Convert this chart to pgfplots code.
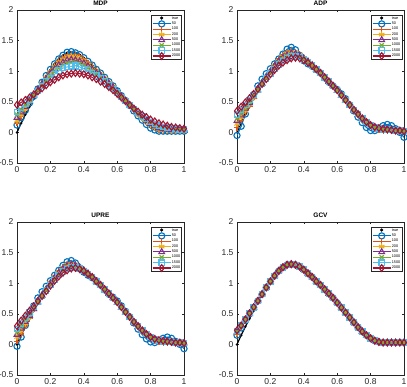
\documentclass[border=0pt]{standalone}
\usepackage{pgfplots}
\pgfplotsset{compat=1.18}
\usepackage{pgfplotstable}
\usepackage{fontspec}
\setmainfont{Liberation Sans}
\definecolor{c1}{rgb}{0,0.447,0.741}
\definecolor{c2}{rgb}{0.85,0.325,0.098}
\definecolor{c3}{rgb}{0.929,0.694,0.125}
\definecolor{c4}{rgb}{0.494,0.184,0.556}
\definecolor{c5}{rgb}{0.466,0.674,0.188}
\definecolor{c6}{rgb}{0.301,0.745,0.933}
\definecolor{c7}{rgb}{0.635,0.078,0.184}
\definecolor{axc}{rgb}{0.15,0.15,0.15}

\pgfplotstableread{
x t s50 s100 s200 s500 s1000 s1500 s2000
0 0 0.12 0.15 0.19 0.24 0.29 0.33 0.45
0.025 0.15 0.24 0.26 0.29 0.33 0.37 0.40 0.49
0.05 0.29 0.36 0.37 0.39 0.42 0.45 0.47 0.53
0.075 0.42 0.48 0.49 0.50 0.51 0.53 0.54 0.57
0.1 0.55 0.59 0.59 0.60 0.60 0.61 0.61 0.62
0.125 0.69 0.71 0.71 0.70 0.70 0.69 0.68 0.67
0.15 0.81 0.82 0.81 0.80 0.79 0.77 0.76 0.72
0.175 0.92 0.93 0.92 0.90 0.87 0.85 0.83 0.77
0.2 1.02 1.03 1.01 0.99 0.96 0.92 0.89 0.82
0.225 1.12 1.12 1.10 1.07 1.03 0.99 0.95 0.86
0.25 1.20 1.20 1.18 1.14 1.10 1.05 1.01 0.90
0.275 1.26 1.26 1.23 1.19 1.14 1.10 1.05 0.93
0.3 1.30 1.31 1.27 1.23 1.18 1.13 1.07 0.95
0.325 1.31 1.32 1.28 1.24 1.19 1.14 1.08 0.96
0.35 1.30 1.30 1.27 1.23 1.18 1.14 1.09 0.97
0.375 1.27 1.27 1.25 1.21 1.16 1.12 1.07 0.96
0.4 1.22 1.22 1.20 1.17 1.13 1.09 1.04 0.95
0.425 1.16 1.16 1.14 1.11 1.08 1.05 1.01 0.93
0.45 1.10 1.10 1.08 1.06 1.03 1.00 0.97 0.90
0.475 1.03 1.03 1.02 1.00 0.97 0.95 0.93 0.87
0.5 0.97 0.97 0.96 0.94 0.92 0.90 0.88 0.83
0.525 0.90 0.90 0.89 0.88 0.86 0.85 0.83 0.79
0.55 0.83 0.83 0.82 0.81 0.80 0.79 0.77 0.74
0.575 0.76 0.76 0.75 0.75 0.74 0.73 0.71 0.69
0.6 0.68 0.68 0.68 0.67 0.66 0.66 0.65 0.63
0.625 0.60 0.60 0.60 0.59 0.59 0.59 0.58 0.57
0.65 0.52 0.52 0.52 0.52 0.52 0.52 0.51 0.51
0.675 0.44 0.44 0.44 0.44 0.44 0.45 0.45 0.45
0.7 0.36 0.35 0.36 0.37 0.37 0.38 0.38 0.39
0.725 0.28 0.27 0.28 0.29 0.30 0.31 0.32 0.34
0.75 0.21 0.20 0.22 0.23 0.24 0.25 0.26 0.29
0.775 0.15 0.13 0.16 0.17 0.19 0.20 0.22 0.25
0.8 0.10 0.07 0.11 0.12 0.14 0.16 0.17 0.21
0.825 0.06 0.04 0.07 0.08 0.10 0.12 0.14 0.18
0.85 0.03 0.02 0.04 0.05 0.07 0.09 0.11 0.15
0.875 0.02 0.02 0.03 0.04 0.06 0.08 0.09 0.13
0.9 0.02 0.02 0.03 0.04 0.05 0.07 0.08 0.11
0.925 0.02 0.02 0.03 0.03 0.04 0.06 0.07 0.09
0.95 0.02 0.02 0.02 0.03 0.04 0.05 0.06 0.08
0.975 0.02 0.02 0.02 0.03 0.04 0.05 0.05 0.07
1 0.02 0.02 0.02 0.03 0.03 0.04 0.05 0.06
}\mdp

\pgfplotstableread{
x t s50 s100 s200 s500 s1000 s1500 s2000
0 0 -0.05 0.08 0.14 0.19 0.23 0.29 0.35
0.025 0.15 0.10 0.20 0.25 0.28 0.32 0.37 0.42
0.05 0.29 0.30 0.32 0.36 0.39 0.41 0.45 0.49
0.075 0.42 0.48 0.43 0.46 0.48 0.50 0.53 0.56
0.1 0.55 0.62 0.56 0.57 0.59 0.60 0.61 0.63
0.125 0.69 0.76 0.68 0.69 0.69 0.70 0.70 0.71
0.15 0.81 0.87 0.80 0.80 0.80 0.79 0.79 0.79
0.175 0.92 0.96 0.92 0.91 0.90 0.89 0.88 0.87
0.2 1.02 1.04 1.01 1.00 0.99 0.98 0.96 0.95
0.225 1.12 1.12 1.11 1.09 1.08 1.06 1.04 1.02
0.25 1.20 1.20 1.20 1.17 1.16 1.14 1.11 1.09
0.275 1.26 1.28 1.27 1.24 1.22 1.20 1.17 1.14
0.3 1.30 1.36 1.32 1.29 1.26 1.24 1.21 1.18
0.325 1.31 1.39 1.34 1.31 1.29 1.27 1.24 1.21
0.35 1.30 1.35 1.32 1.30 1.28 1.26 1.24 1.22
0.375 1.27 1.26 1.28 1.27 1.25 1.24 1.23 1.21
0.4 1.22 1.17 1.23 1.22 1.21 1.20 1.19 1.18
0.425 1.16 1.12 1.17 1.16 1.16 1.15 1.15 1.14
0.45 1.10 1.08 1.10 1.10 1.10 1.09 1.09 1.09
0.475 1.03 1.03 1.03 1.03 1.03 1.03 1.03 1.03
0.5 0.97 0.97 0.97 0.97 0.97 0.97 0.97 0.97
0.525 0.90 0.89 0.90 0.90 0.90 0.90 0.90 0.90
0.55 0.83 0.82 0.83 0.83 0.83 0.83 0.83 0.83
0.575 0.76 0.76 0.76 0.76 0.76 0.76 0.76 0.76
0.6 0.68 0.70 0.68 0.68 0.68 0.69 0.69 0.69
0.625 0.60 0.63 0.60 0.60 0.60 0.61 0.61 0.61
0.65 0.52 0.55 0.52 0.52 0.52 0.53 0.53 0.53
0.675 0.44 0.45 0.44 0.44 0.44 0.45 0.45 0.45
0.7 0.36 0.35 0.36 0.36 0.36 0.37 0.37 0.37
0.725 0.28 0.25 0.28 0.29 0.29 0.29 0.30 0.30
0.75 0.21 0.16 0.21 0.22 0.22 0.22 0.23 0.23
0.775 0.15 0.08 0.15 0.16 0.16 0.16 0.17 0.17
0.8 0.10 0.03 0.10 0.11 0.11 0.11 0.12 0.12
0.825 0.06 0.03 0.06 0.07 0.07 0.08 0.08 0.09
0.85 0.03 0.07 0.04 0.05 0.05 0.06 0.06 0.07
0.875 0.02 0.11 0.03 0.04 0.04 0.05 0.05 0.06
0.9 0.02 0.13 0.03 0.04 0.04 0.04 0.05 0.05
0.925 0.02 0.11 0.03 0.03 0.03 0.04 0.04 0.04
0.95 0.02 0.06 0.02 0.02 0.02 0.03 0.03 0.03
0.975 0.02 0.00 0.02 0.02 0.02 0.03 0.03 0.03
1 0.02 -0.08 0.02 0.02 0.02 0.02 0.02 0.02
}\adp

\pgfplotstableread{
x t s50 s100 s200 s500 s1000 s1500 s2000
0 0 -0.03 0.05 0.12 0.16 0.20 0.25 0.30
0.025 0.15 0.12 0.17 0.22 0.26 0.30 0.34 0.39
0.05 0.29 0.31 0.30 0.34 0.37 0.40 0.43 0.47
0.075 0.42 0.48 0.42 0.45 0.47 0.49 0.52 0.55
0.1 0.55 0.63 0.56 0.57 0.58 0.59 0.61 0.62
0.125 0.69 0.76 0.68 0.69 0.69 0.70 0.70 0.71
0.15 0.81 0.86 0.80 0.80 0.80 0.79 0.79 0.79
0.175 0.92 0.95 0.92 0.91 0.90 0.89 0.88 0.87
0.2 1.02 1.04 1.02 1.01 1.00 0.99 0.97 0.96
0.225 1.12 1.13 1.12 1.10 1.09 1.07 1.05 1.04
0.25 1.20 1.21 1.20 1.18 1.17 1.15 1.13 1.11
0.275 1.26 1.29 1.27 1.25 1.23 1.21 1.19 1.17
0.3 1.30 1.35 1.32 1.30 1.28 1.26 1.23 1.21
0.325 1.31 1.37 1.33 1.31 1.30 1.28 1.26 1.24
0.35 1.30 1.33 1.31 1.30 1.29 1.27 1.26 1.25
0.375 1.27 1.25 1.28 1.27 1.26 1.25 1.24 1.23
0.4 1.22 1.18 1.23 1.22 1.21 1.21 1.20 1.20
0.425 1.16 1.13 1.17 1.16 1.16 1.16 1.15 1.15
0.45 1.10 1.09 1.10 1.10 1.10 1.10 1.10 1.10
0.475 1.03 1.04 1.03 1.03 1.03 1.03 1.03 1.03
0.5 0.97 0.97 0.97 0.97 0.97 0.97 0.97 0.97
0.525 0.90 0.89 0.90 0.90 0.90 0.90 0.90 0.90
0.55 0.83 0.82 0.83 0.83 0.83 0.83 0.83 0.83
0.575 0.76 0.77 0.76 0.76 0.76 0.76 0.76 0.76
0.6 0.68 0.71 0.68 0.68 0.68 0.69 0.69 0.69
0.625 0.60 0.63 0.60 0.60 0.60 0.61 0.61 0.61
0.65 0.52 0.54 0.52 0.52 0.52 0.53 0.53 0.53
0.675 0.44 0.45 0.44 0.44 0.44 0.45 0.45 0.45
0.7 0.36 0.35 0.36 0.36 0.36 0.37 0.37 0.37
0.725 0.28 0.25 0.28 0.29 0.29 0.29 0.30 0.30
0.75 0.21 0.16 0.21 0.22 0.22 0.22 0.23 0.23
0.775 0.15 0.09 0.15 0.16 0.16 0.16 0.17 0.17
0.8 0.10 0.04 0.10 0.11 0.11 0.11 0.12 0.12
0.825 0.06 0.03 0.06 0.07 0.07 0.08 0.08 0.09
0.85 0.03 0.06 0.04 0.05 0.05 0.06 0.06 0.07
0.875 0.02 0.10 0.03 0.04 0.04 0.05 0.05 0.06
0.9 0.02 0.12 0.03 0.04 0.04 0.04 0.05 0.05
0.925 0.02 0.10 0.03 0.03 0.03 0.04 0.04 0.04
0.95 0.02 0.05 0.02 0.02 0.02 0.03 0.03 0.03
0.975 0.02 0.00 0.02 0.02 0.02 0.03 0.03 0.03
1 0.02 -0.07 0.02 0.02 0.02 0.02 0.02 0.02
}\upre

\pgfplotstableread{
x t s50 s100 s200 s500 s1000 s1500 s2000
0 0 0.15 0.17 0.19 0.20 0.21 0.22 0.23
0.025 0.15 0.27 0.28 0.29 0.30 0.30 0.31 0.31
0.05 0.29 0.39 0.39 0.40 0.40 0.40 0.41 0.41
0.075 0.42 0.50 0.50 0.50 0.50 0.50 0.51 0.51
0.1 0.55 0.60 0.60 0.60 0.60 0.60 0.60 0.61
0.125 0.69 0.71 0.71 0.71 0.71 0.71 0.71 0.71
0.15 0.81 0.82 0.82 0.82 0.82 0.82 0.82 0.82
0.175 0.92 0.93 0.93 0.93 0.93 0.93 0.93 0.93
0.2 1.02 1.03 1.03 1.03 1.03 1.03 1.03 1.03
0.225 1.12 1.12 1.12 1.12 1.12 1.12 1.12 1.12
0.25 1.20 1.20 1.20 1.20 1.20 1.20 1.20 1.20
0.275 1.26 1.26 1.26 1.26 1.26 1.26 1.26 1.26
0.3 1.30 1.30 1.30 1.30 1.30 1.30 1.30 1.30
0.325 1.31 1.31 1.31 1.31 1.31 1.31 1.31 1.31
0.35 1.30 1.30 1.30 1.30 1.30 1.30 1.30 1.30
0.375 1.27 1.27 1.27 1.27 1.27 1.27 1.27 1.27
0.4 1.22 1.22 1.22 1.22 1.22 1.22 1.22 1.22
0.425 1.16 1.16 1.16 1.16 1.16 1.16 1.16 1.16
0.45 1.10 1.10 1.10 1.10 1.10 1.10 1.10 1.10
0.475 1.03 1.03 1.03 1.03 1.03 1.03 1.03 1.03
0.5 0.97 0.97 0.97 0.97 0.97 0.97 0.97 0.97
0.525 0.90 0.90 0.90 0.90 0.90 0.90 0.90 0.90
0.55 0.83 0.83 0.83 0.83 0.83 0.83 0.83 0.83
0.575 0.76 0.76 0.76 0.76 0.76 0.76 0.76 0.76
0.6 0.68 0.68 0.68 0.68 0.68 0.68 0.68 0.68
0.625 0.60 0.60 0.60 0.60 0.60 0.60 0.60 0.60
0.65 0.52 0.52 0.52 0.52 0.52 0.52 0.52 0.52
0.675 0.44 0.44 0.44 0.44 0.44 0.44 0.44 0.44
0.7 0.36 0.36 0.36 0.36 0.36 0.36 0.36 0.36
0.725 0.28 0.28 0.28 0.28 0.28 0.28 0.28 0.28
0.75 0.21 0.21 0.21 0.21 0.21 0.21 0.21 0.21
0.775 0.15 0.15 0.15 0.15 0.15 0.15 0.15 0.15
0.8 0.10 0.10 0.10 0.10 0.10 0.10 0.10 0.10
0.825 0.06 0.06 0.06 0.06 0.06 0.06 0.06 0.06
0.85 0.03 0.04 0.04 0.04 0.04 0.04 0.04 0.04
0.875 0.02 0.03 0.03 0.03 0.03 0.03 0.03 0.03
0.9 0.02 0.03 0.03 0.03 0.03 0.03 0.03 0.03
0.925 0.02 0.03 0.03 0.03 0.03 0.03 0.03 0.03
0.95 0.02 0.03 0.03 0.03 0.03 0.03 0.03 0.03
0.975 0.02 0.03 0.03 0.03 0.03 0.03 0.03 0.03
1 0.02 0.03 0.03 0.03 0.03 0.03 0.03 0.03
}\gcv

\pgfplotsset{
  myaxis/.style={
    scale only axis, width=167pt, height=153pt,
    xmin=0, xmax=1, ymin=-0.5, ymax=2,
    xtick={0,0.2,0.4,0.6,0.8,1}, xticklabels={0,0.2,0.4,0.6,0.8,1},
    ytick={-0.5,0,0.5,1,1.5,2}, yticklabels={-0.5,0,0.5,1,1.5,2},
    tick align=inside, major tick length=2pt,
    axis line style={draw=axc, line width=0.5pt},
    tick style={draw=axc, line width=0.5pt},
    ticklabel style={font=\fontsize{8.5}{9.5}\selectfont, text=axc},
    title style={font=\bfseries\fontsize{6.5}{7}\selectfont, text=black, yshift=-5.5pt},
    legend style={at={(0.988,0.968)}, anchor=north east, draw=axc, line width=0.5pt,
      font=\fontsize{3.8}{4.2}\selectfont, inner sep=1.2pt, row sep=0.6pt, column sep=0.8pt,
      nodes={inner sep=0.3pt}},
    legend cell align=left,
    legend image code/.code={%
      \begin{pgfinterruptboundingbox}
      \draw[mark repeat=2,mark phase=2] plot coordinates {(0pt,0pt)(9pt,0pt)(18pt,0pt)};
      \end{pgfinterruptboundingbox}
      \path[draw=none,fill=none] (0pt,-1.6pt) rectangle (18pt,1.6pt);},
  },
  ptrue/.style={black, line width=1.2pt, mark=*, mark size=0.5pt,
    legend image code/.code={%
      \begin{pgfinterruptboundingbox}
      \fill[black] (9pt,0.6pt) circle (0.9pt);
      \end{pgfinterruptboundingbox}
      \path[draw=none,fill=none] (0pt,-1.6pt) rectangle (18pt,1.6pt);}},
  p50/.style={c1, line width=1.1pt, mark=o, mark size=3.1pt},
  p100/.style={c2, line width=1.1pt, mark=+, mark size=3.1pt},
  p200/.style={c3, line width=1.1pt, mark=asterisk, mark size=3.1pt},
  p500/.style={c4, line width=1.1pt, mark=triangle, mark size=3.3pt},
  p1000/.style={c5, line width=1.1pt, mark=x, mark size=2.9pt},
  p1500/.style={c6, line width=1.1pt, mark=square, mark size=2.7pt},
  p2000/.style={c7, line width=1.1pt, mark=diamond, mark size=3.4pt},
}

\newcommand{\allplots}[1]{%
  \addplot[ptrue] table[x=x,y=t]{#1};
  \addplot[p50] table[x=x,y=s50]{#1};
  \addplot[p100] table[x=x,y=s100]{#1};
  \addplot[p200] table[x=x,y=s200]{#1};
  \addplot[p500] table[x=x,y=s500]{#1};
  \addplot[p1000] table[x=x,y=s1000]{#1};
  \addplot[p1500] table[x=x,y=s1500]{#1};
  \addplot[p2000] table[x=x,y=s2000]{#1};
  \legend{true,50,100,200,500,1000,1500,2000}
}

\begin{document}
\begin{tikzpicture}[x=1pt,y=1pt]
\path[use as bounding box] (0,0) rectangle (407,-386);
\begin{axis}[myaxis, at={(17pt,-163pt)}, anchor=south west, title={MDP}]
\allplots{\mdp}
\end{axis}
\begin{axis}[myaxis, at={(237pt,-163pt)}, anchor=south west, title={ADP}]
\allplots{\adp}
\end{axis}
\begin{axis}[myaxis, at={(17pt,-375pt)}, anchor=south west, title={UPRE}]
\allplots{\upre}
\end{axis}
\begin{axis}[myaxis, at={(237pt,-375pt)}, anchor=south west, title={GCV}]
\allplots{\gcv}
\end{axis}
\end{tikzpicture}
\end{document}
